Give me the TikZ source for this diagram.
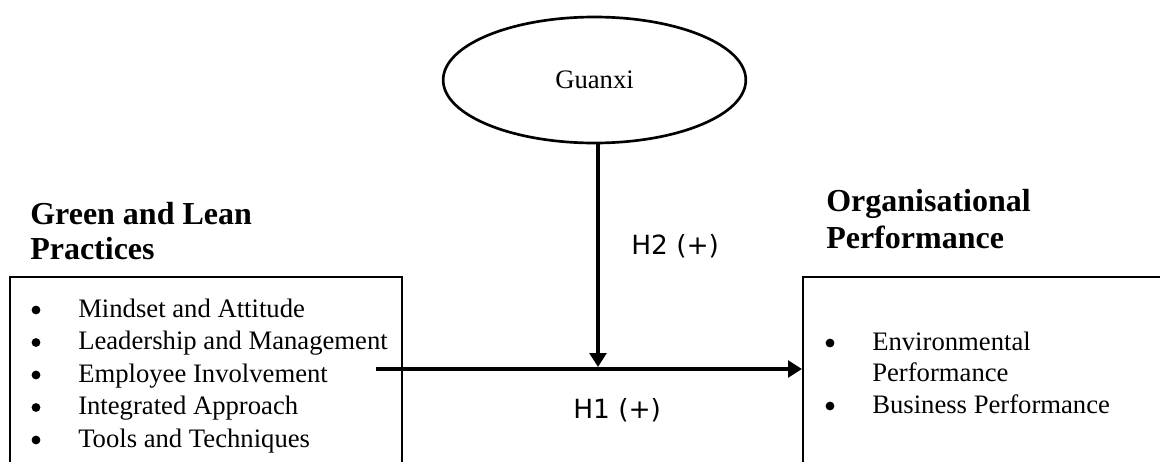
\documentclass[tikz,border=0pt]{standalone}
\usepackage{fontspec}
\setmainfont{Liberation Serif}
\newfontfamily\hypfont{DejaVu Sans}
\usetikzlibrary{arrows.meta,shapes.geometric}

\begin{document}
\begin{tikzpicture}[x=0.75pt,y=-0.75pt,
  head/.style={font=\bfseries\fontsize{24pt}{27pt}\selectfont,anchor=base west,inner sep=0pt},
  item/.style={font=\fontsize{20pt}{24pt}\selectfont,anchor=base west,inner sep=0pt},
  hyp/.style={font=\hypfont\fontsize{19.8pt}{23pt}\selectfont,anchor=base west,inner sep=0pt},
  box/.style={draw,line width=1.5pt,rectangle,inner sep=0pt},
  link/.style={line width=3pt,-{Triangle[length=10.5pt,width=12.5pt]}}]
  \clip (0,0) rectangle (1160,461);
  % moderator
  \node[draw,ellipse,line width=2pt,minimum width=227pt,minimum height=94.5pt,inner sep=0pt,
    font=\fontsize{20pt}{24pt}\selectfont] (guanxi) at (594.5,80) {Guanxi};
  % headings
  \node[head] (glhead) at (30,224) {Green and Lean};
  \node[head] (glhead2) at (30,259) {Practices};
  \node[head] (ophead) at (826,211) {Organisational};
  \node[head] (ophead2) at (826,248) {Performance};
  % boxes, cut off by the lower and right edge
  \node[box,minimum width=294pt,minimum height=172.5pt] (glbox) at (206,392) {};
  \node[box,minimum width=297.75pt,minimum height=172.5pt] (opbox) at (1001.5,392) {};
  % bullet lists
  \foreach \txt [count=\i] in {Mindset and Attitude,Leadership and Management,
      Employee Involvement,Integrated Approach,Tools and Techniques} {
    \fill (36,{310+32.5*(\i-1)}) circle (3.3pt);
    \node[item] (gl\i) at (78,{317+32.5*(\i-1)}) {\txt};
  }
  \fill (830,343) circle (3.3pt);
  \node[item] (op1) at (872,350) {Environmental};
  \node[item] (op1b) at (872,381.5) {Performance};
  \fill (830,406) circle (3.3pt);
  \node[item] (op2) at (872,413) {Business Performance};
  % paths
  \coordinate (start) at (376,369);
  \coordinate (join) at (598,367);
  \draw[link] (start) -- (start -| opbox.west);
  \draw[link] (guanxi.south -| join) -- (join);
  \node[hyp] (h2) at (631,254) {H2 (+)};
  \node[hyp] (h1) at (573,418) {H1 (+)};
\end{tikzpicture}
\end{document}
